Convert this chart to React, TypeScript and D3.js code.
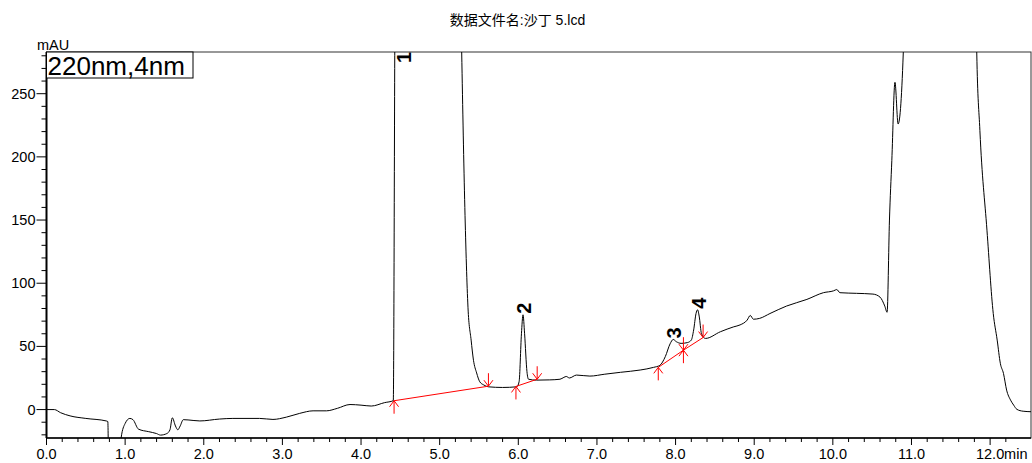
import React, { useEffect, useRef } from 'react'
import * as d3 from 'd3'

// chromatogram trace (min, mAU)
const traceTime = [
    0.00, 0.10, 0.18, 0.30, 0.50, 0.76, 0.78, 0.79, 0.92, 0.95, 1.00, 1.06, 1.10, 1.17, 1.30, 1.40,
    1.45, 1.53, 1.57, 1.60, 1.64, 1.67, 1.70, 1.74, 1.80, 1.95, 2.20, 2.37, 2.71, 2.88, 3.05, 3.22,
    3.39, 3.56, 3.70, 3.86, 4.00, 4.13, 4.30, 4.41, 4.43, 4.45, 5.20, 5.28, 5.32, 5.36, 5.40, 5.43,
    5.47, 5.51, 5.56, 5.62, 5.80, 5.98, 6.01, 6.04, 6.06, 6.08, 6.11, 6.13, 6.23, 6.40, 6.53, 6.58,
    6.61, 6.65, 6.74, 6.91, 7.10, 7.30, 7.55, 7.72, 7.80, 7.87, 7.93, 7.97, 8.01, 8.07, 8.15, 8.20,
    8.23, 8.26, 8.28, 8.30, 8.33, 8.38, 8.57, 8.74, 8.82, 8.91, 8.95, 8.99, 9.07, 9.20, 9.41, 9.67,
    9.88, 10.01, 10.05, 10.09, 10.30, 10.51, 10.60, 10.66, 10.69, 10.72, 10.75, 10.79, 10.83, 10.90,
    10.95, 11.78, 11.83, 11.87, 11.96, 12.04, 12.09, 12.13, 12.17, 12.21, 12.26, 12.30, 12.34, 12.42, 12.52
]
const traceValue = [
    0, 0, -2.5, -5, -7, -9, -9.5, -40, -40, -22, -11, -7, -8, -15.5, -17.5, -19,
    -20.2, -19, -16, -6.5, -13, -16, -13, -8, -8.2, -9, -7.5, -7, -7, -7.8, -6, -3,
    -1, -1, 1, 4, 3.5, 2.8, 5.5, 7, 300, 600, 600, 283, 160, 81, 55, 39,
    29, 22, 19.5, 18, 17.5, 18, 22, 60, 75, 60, 30, 24, 23.3, 23.5, 24, 25.5,
    26.2, 25, 27.3, 26.5, 28, 29.5, 31.3, 33.4, 35, 42, 52, 55.5, 53.7, 52.4, 53, 55,
    63, 76, 79, 74, 60, 56.3, 61.6, 65.5, 67, 70.8, 74.5, 71.5, 72.2, 76, 81.9, 87.2,
    92.5, 94, 95, 92.5, 92, 91.4, 89, 82, 77, 150, 197, 259, 226, 290,
    600, 600, 283, 221, 142, 76, 55, 36.6, 28.6, 15.4, 7.5, 3.5, 0.2, -1.3, -1.7
]

// integrated peaks
const peakNames = ['1', '2', '3', '4']
const peakTimes = [4.54, 6.06, 7.97, 8.28]
const peakHeights = [2000, 75, 55.5, 79]
const baseStartTime = [4.42, 5.97, 7.78, 8.10]
const baseStartValue = [7, 18.3, 33.4, 47]
const baseEndTime = [5.62, 6.24, 8.10, 8.35]
const baseEndValue = [18.5, 24, 47, 57]

const xTickLabels = ['0.0', '1.0', '2.0', '3.0', '4.0', '5.0', '6.0', '7.0', '8.0', '9.0', '10.0', '11.0', '12.0']
const yTickLabels = [0, 50, 100, 150, 200, 250]

export default function App() {
    const svgRef = useRef(null)

    const width = 1032
    const height = 463
    const margin = { top: 52, right: 1, bottom: 25, left: 46.5 }
    const innerWidth = width - margin.left - margin.right
    const innerHeight = height - margin.top - margin.bottom

    const font = '"Liberation Sans", Arial, sans-serif'

    const renderChromatogram = () => {
        const svg = d3.select(svgRef.current)
        svg.selectAll('*').remove()

        const xScale = d3.scaleLinear().domain([0, 12.52]).range([0, innerWidth])
        const yScale = d3.scaleLinear().domain([-22.5, 283]).range([innerHeight, 0])

        svg.append('text')
            .attr('x', 517.5)
            .attr('y', 25)
            .attr('text-anchor', 'middle')
            .attr('font-family', '"Liberation Sans", "Noto Sans CJK SC", sans-serif')
            .attr('font-size', 14)
            .text('数据文件名:沙丁 5.lcd')

        const g = svg.append('g')
            .attr('transform', `translate(${margin.left}, ${margin.top})`)

        g.append('clipPath').attr('id', 'plot-clip')
            .append('rect')
            .attr('width', innerWidth)
            .attr('height', innerHeight)

        // frame
        g.append('rect')
            .attr('width', innerWidth)
            .attr('height', innerHeight)
            .attr('fill', 'none')
            .attr('stroke', '#333')
            .attr('stroke-width', 1)

        // x ticks
        const xMinor = d3.range(0, 62).map(i => i * 0.2).filter(v => v <= 12.5)
        g.append('g')
            .selectAll('line')
            .data(xMinor)
            .enter()
            .append('line')
            .attr('x1', d => xScale(d))
            .attr('x2', d => xScale(d))
            .attr('y1', innerHeight)
            .attr('y2', (d, i) => innerHeight + (i % 5 === 0 ? 7 : 4))
            .attr('stroke', '#000')

        const xLabels = g.append('g')
            .attr('font-family', font)
            .attr('font-size', 14.5)
        xLabels.selectAll('text')
            .data(xTickLabels)
            .enter()
            .append('text')
            .attr('x', (d, i) => xScale(i))
            .attr('y', innerHeight + 21)
            .attr('text-anchor', 'middle')
            .text(d => d)
        xLabels.append('text')
            .attr('x', xScale(12) + 14)
            .attr('y', innerHeight + 21)
            .text('min')

        // y ticks
        const yMinor = d3.range(-20, 290, 10)
        g.append('g')
            .selectAll('line')
            .data(yMinor)
            .enter()
            .append('line')
            .attr('x1', d => (d % 50 === 0 ? -10 : -5))
            .attr('x2', 0)
            .attr('y1', d => yScale(d))
            .attr('y2', d => yScale(d))
            .attr('stroke', '#000')

        g.append('g')
            .attr('font-family', font)
            .attr('font-size', 14.5)
            .selectAll('text')
            .data(yTickLabels)
            .enter()
            .append('text')
            .attr('x', -11)
            .attr('y', d => yScale(d))
            .attr('dy', '0.35em')
            .attr('text-anchor', 'end')
            .text(d => d)

        // axis lines
        g.append('line')
            .attr('x1', 0).attr('x2', 0)
            .attr('y1', 0).attr('y2', innerHeight)
            .attr('stroke', '#000').attr('stroke-width', 2)
        g.append('line')
            .attr('x1', 0).attr('x2', innerWidth)
            .attr('y1', innerHeight).attr('y2', innerHeight)
            .attr('stroke', '#000').attr('stroke-width', 1.5)

        g.append('text')
            .attr('x', -9.5)
            .attr('y', -2)
            .attr('font-family', font)
            .attr('font-size', 14.5)
            .text('mAU')

        // trace
        const points = traceTime.map((t, i) => [t, traceValue[i]])
        const line = d3.line()
            .x(d => xScale(d[0]))
            .y(d => yScale(d[1]))
            .curve(d3.curveMonotoneX)

        g.append('path')
            .datum(points)
            .attr('clip-path', 'url(#plot-clip)')
            .attr('fill', 'none')
            .attr('stroke', '#000')
            .attr('stroke-width', 1)
            .attr('d', line)

        // integration baselines
        const red = '#ff0000'
        const base = g.append('g').attr('stroke', red).attr('stroke-width', 1).attr('fill', 'none')
        baseStartTime.forEach((t, i) => {
            base.append('line')
                .attr('x1', xScale(t)).attr('y1', yScale(baseStartValue[i]))
                .attr('x2', xScale(baseEndTime[i])).attr('y2', yScale(baseEndValue[i]))
        })
        baseStartTime.forEach((t, i) => {
            const x = xScale(t)
            const y = yScale(baseStartValue[i])
            base.append('path')
                .attr('d', `M${x},${y + 13}L${x},${y}M${x - 4.5},${y + 6}L${x},${y}L${x + 4.5},${y + 6}`)
        })
        baseEndTime.forEach((t, i) => {
            const x = xScale(t)
            const y = yScale(baseEndValue[i])
            base.append('path')
                .attr('d', `M${x},${y - 13}L${x},${y}M${x - 4.5},${y - 6}L${x},${y}L${x + 4.5},${y - 6}`)
        })

        // peak numbers
        g.append('g')
            .attr('font-family', font)
            .attr('font-size', 20)
            .attr('font-weight', 'bold')
            .selectAll('text')
            .data(peakNames)
            .enter()
            .append('text')
            .attr('transform', (d, i) => {
                const x = xScale(peakTimes[i]) + 8
                const y = Math.max(yScale(peakHeights[i]) - 1, 11)
                return `translate(${x}, ${y}) rotate(-90)`
            })
            .text(d => d)

        // detector legend box
        g.append('rect')
            .attr('x', 0)
            .attr('y', 0)
            .attr('width', 146.5)
            .attr('height', 26)
            .attr('fill', '#fff')
            .attr('stroke', '#000')
        g.append('text')
            .attr('x', 1)
            .attr('y', 23)
            .attr('font-family', font)
            .attr('font-size', 26)
            .text('220nm,4nm')
    }

    useEffect(() => {
        renderChromatogram()
    })

    return (
        <svg ref={svgRef} width={width} height={height}
            style={{ position: 'absolute', left: 0, top: 0, background: '#fff' }}></svg>
    )
}
